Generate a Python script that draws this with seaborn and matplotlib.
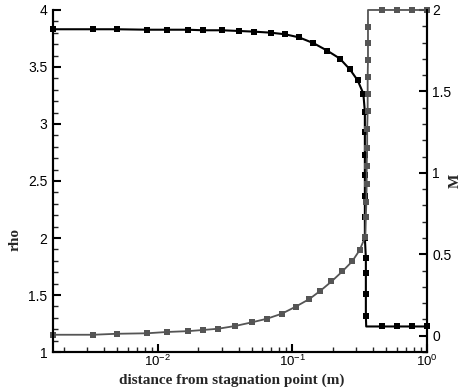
import numpy as np
import pandas as pd
import matplotlib
matplotlib.use("Agg")
import matplotlib.pyplot as plt
from matplotlib.ticker import FixedLocator, MultipleLocator, FormatStrFormatter, LogLocator, NullFormatter
import seaborn as sns

# Density profile along the stagnation line (black)
rho_x = [0.001667, 0.00332, 0.00498, 0.00837, 0.01167, 0.0167, 0.0218, 0.0301,
         0.0400, 0.0520, 0.0692, 0.0884, 0.1124, 0.144, 0.183, 0.226, 0.269,
         0.307, 0.338, 0.347, 0.347, 0.347, 0.347, 0.347, 0.347, 0.347,
         0.353, 0.353, 0.353, 0.353, 0.355, 0.463, 0.598, 0.778, 1.0]
rho_y = [3.831, 3.831, 3.831, 3.827, 3.827, 3.827, 3.822, 3.822,
         3.816, 3.810, 3.801, 3.787, 3.760, 3.709, 3.642, 3.574, 3.478,
         3.382, 3.267, 3.108, 2.932, 2.728, 2.553, 2.368, 2.184, 2.003,
         1.822, 1.696, 1.505, 1.316, 1.224, 1.224, 1.224, 1.224, 1.224]
rho_corner = [30]  # shock foot: line vertex without a symbol

# Mach number profile (gray)
mach_x = [0.00166, 0.00332, 0.00497, 0.00834, 0.0117, 0.0167, 0.0216, 0.0282,
          0.0378, 0.0500, 0.0647, 0.0836, 0.106, 0.134, 0.162, 0.196, 0.236,
          0.279, 0.317, 0.350, 0.353, 0.356, 0.358, 0.358, 0.361, 0.361,
          0.364, 0.364, 0.364, 0.366, 0.366, 0.366, 0.366, 0.463, 0.598, 0.778, 1.0]
mach_y = [0.006, 0.006, 0.012, 0.015, 0.023, 0.028, 0.035, 0.043,
          0.060, 0.082, 0.104, 0.135, 0.178, 0.225, 0.276, 0.333, 0.395,
          0.456, 0.525, 0.609, 0.728, 0.824, 0.933, 1.043, 1.155, 1.270,
          1.380, 1.485, 1.587, 1.693, 1.799, 1.898, 2.0, 2.0, 2.0, 2.0, 2.0]
mach_corner = [32]

rho_df = pd.DataFrame({"x": rho_x, "rho": rho_y})
mach_df = pd.DataFrame({"x": mach_x, "M": mach_y})

sns.set_theme(style="ticks")
plt.rcParams["font.family"] = ["Liberation Sans", "DejaVu Sans"]
plt.rcParams["mathtext.fontset"] = "custom"
plt.rcParams["mathtext.rm"] = "Liberation Sans"
plt.rcParams["mathtext.it"] = "Liberation Sans"

fig = plt.figure(figsize=(4.67, 3.90), dpi=100)
ax = fig.add_axes([0.1135, 0.0974, 0.8002, 0.8770])
ax2 = ax.twinx()

def keep(n, skip):
    return [i for i in range(n) if i not in skip]

sns.lineplot(data=rho_df, x="x", y="rho", ax=ax, color="black", linewidth=1.5,
             marker="s", markersize=5, markeredgewidth=0, estimator=None,
             sort=False, markevery=keep(len(rho_x), rho_corner), clip_on=False)
sns.lineplot(data=mach_df, x="x", y="M", ax=ax2, color="#555555", linewidth=1.3,
             marker="s", markersize=5, markeredgewidth=0, estimator=None,
             sort=False, markevery=keep(len(mach_x), mach_corner), clip_on=False)

for a in (ax, ax2):
    a.set_xscale("log")
    a.set_xlim(0.001667, 1.0)
    a.grid(False)
    a.spines["top"].set_visible(False)
    for s in ("left", "right", "bottom"):
        a.spines[s].set_linewidth(1.5)
        a.spines[s].set_color("black")

ax.set_ylim(1, 4)
ax2.set_ylim(-0.1, 2)

ax.yaxis.set_major_locator(MultipleLocator(0.5))
ax.yaxis.set_minor_locator(MultipleLocator(0.1))
ax.yaxis.set_major_formatter(FormatStrFormatter("%g"))
ax2.yaxis.set_major_locator(FixedLocator([0, 0.5, 1, 1.5, 2]))
ax2.yaxis.set_minor_locator(FixedLocator(np.round(np.arange(-0.1, 2.01, 0.1), 2)))
ax2.yaxis.set_major_formatter(FormatStrFormatter("%g"))

ax.xaxis.set_major_locator(LogLocator(base=10, numticks=10))
ax.xaxis.set_minor_locator(LogLocator(base=10, subs=np.arange(2, 10), numticks=20))
ax.xaxis.set_minor_formatter(NullFormatter())

ax.tick_params(which="major", direction="in", length=6, width=1.5, labelsize=10,
               colors="black", pad=4)
ax.tick_params(which="minor", direction="in", length=3.5, width=1.0)
ax.tick_params(axis="x", which="major", pad=1.5, labelsize=9.5)
ax.tick_params(axis="x", which="both", top=False)
ax.tick_params(axis="y", which="both", right=False)
ax2.tick_params(which="major", direction="in", length=6, width=1.5, labelsize=10,
                colors="black", pad=4)
ax2.tick_params(which="minor", direction="in", length=3.5, width=1.0)
ax2.tick_params(axis="x", which="both", bottom=False, top=False, labelbottom=False)

label_font = dict(family=["Liberation Serif", "DejaVu Serif"], weight="bold", size=11)
ax.set_xlabel("distance from stagnation point (m)", **label_font)
ax.set_ylabel("rho", **label_font)
ax2.set_ylabel("M", **label_font)
ax.xaxis.set_label_coords(0.479, -0.062)
ax.yaxis.set_label_coords(-0.085, 0.33)
ax2.yaxis.set_label_coords(1.06, 0.50)

fig.savefig("out.png", dpi=100)
